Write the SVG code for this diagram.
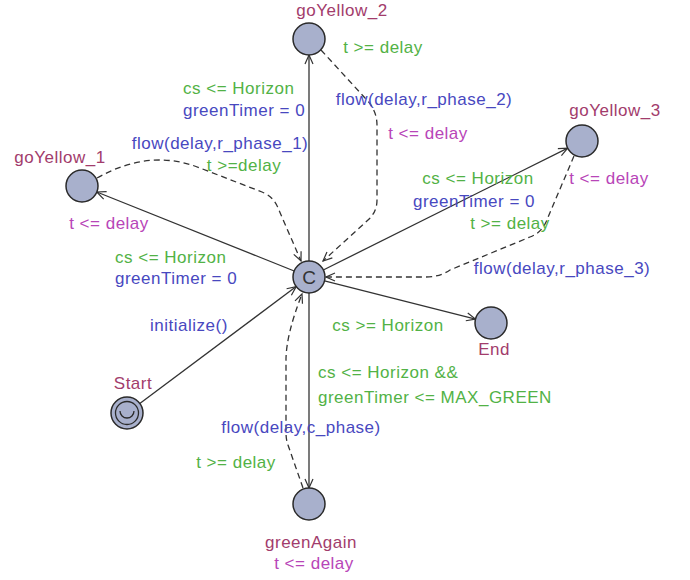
<svg xmlns="http://www.w3.org/2000/svg" width="690" height="580" viewBox="0 0 690 580">
<defs>
<style>
text{font-family:"Liberation Sans",Arial,sans-serif;font-size:17px;letter-spacing:0.5px}
.nm{fill:#a23c6c;text-anchor:middle}
.gd{fill:#52b246}
.as{fill:#4848bf}
.iv{fill:#b845b8}
.m{text-anchor:middle}
.loc{fill:#a8b0cc;stroke:#2a2a2a;stroke-width:1.5}
.e{fill:none;stroke:#333;stroke-width:1.3}
.d{stroke-dasharray:6,4}
</style>
<marker id="arr" viewBox="-10 -5 11 10" refX="0" refY="0" markerWidth="11" markerHeight="10" markerUnits="userSpaceOnUse" orient="auto">
<path d="M-9,-4 L0,0 L-9,4" fill="none" stroke="#333" stroke-width="1.2"/>
</marker>
</defs>
<rect width="690" height="580" fill="#ffffff"/>
<g id="connectors">
<path class="e" d="M309,261 L309,55" marker-end="url(#arr)"/>
<path class="e" d="M294.2,271 L96.8,192" marker-end="url(#arr)"/>
<path class="e" d="M323.3,270 L567.7,148.1" marker-end="url(#arr)"/>
<path class="e" d="M324.5,280.9 L475.5,319.1" marker-end="url(#arr)"/>
<path class="e" d="M309,293 L309,488" marker-end="url(#arr)"/>
<path class="e" d="M139.8,403.4 L296.2,286.6" marker-end="url(#arr)"/>
<path class="e d" d="M321,50 L365,98 Q377,110 377,125 L377,200 Q377,212 368,220 L323,261" marker-end="url(#arr)"/>
<path class="e d" d="M97,178 Q150,148 200,168 L262,192 Q274,197 278,208 L301,261" marker-end="url(#arr)"/>
<path class="e d" d="M574,156 L546,222 Q541,233 530,237 L450,270 Q440,277 425,277 L326,277" marker-end="url(#arr)"/>
<path class="e d" d="M303,488 L288,445 Q286,440 286,432 L286,360 Q286,335 302,294" marker-end="url(#arr)"/>
</g>
<g id="C">
<circle class="loc" cx="309" cy="277" r="16"/>
<text x="309" y="284" class="m" style="fill:#333;font-size:19px;letter-spacing:0">C</text>
</g>
<g id="goYellow_2">
<circle class="loc" cx="309" cy="39" r="16"/>
<text x="342" y="16" class="nm">goYellow_2</text>
</g>
<g id="goYellow_1">
<circle class="loc" cx="82" cy="186" r="16"/>
<text x="60" y="163" class="nm">goYellow_1</text>
</g>
<g id="goYellow_3">
<circle class="loc" cx="582" cy="141" r="16"/>
<text x="615" y="116" class="nm">goYellow_3</text>
</g>
<g id="End">
<circle class="loc" cx="491" cy="323" r="16"/>
<text x="494" y="355" class="nm">End</text>
</g>
<g id="greenAgain">
<circle class="loc" cx="309" cy="504" r="16"/>
<text x="311" y="548" class="nm">greenAgain</text>
</g>
<g id="Start">
<circle class="loc" cx="127" cy="413" r="16"/>
<circle cx="127" cy="413" r="11.5" fill="none" stroke="#2a2a2a" stroke-width="1.3"/>
<path d="M120,411 A7,7 0 0 0 134,411" fill="none" stroke="#2a2a2a" stroke-width="1.3"/>
<text x="133" y="389" class="nm">Start</text>
</g>
<g id="labels">
<text x="383" y="53" class="gd m">t &gt;= delay</text>
<text x="183" y="94" class="gd">cs &lt;= Horizon</text>
<text x="183" y="116" class="as">greenTimer = 0</text>
<text x="424" y="105" class="as m">flow(delay,r_phase_2)</text>
<text x="428" y="139" class="iv m">t &lt;= delay</text>
<text x="220" y="149" class="as m">flow(delay,r_phase_1)</text>
<text x="244" y="171" class="gd m">t &gt;=delay</text>
<text x="609" y="184" class="iv m">t &lt;= delay</text>
<text x="478" y="184" class="gd m">cs &lt;= Horizon</text>
<text x="474" y="207" class="as m">greenTimer = 0</text>
<text x="510" y="229" class="gd m">t &gt;= delay</text>
<text x="109" y="229" class="iv m">t &lt;= delay</text>
<text x="115" y="263" class="gd">cs &lt;= Horizon</text>
<text x="115" y="284" class="as">greenTimer = 0</text>
<text x="562" y="274" class="as m">flow(delay,r_phase_3)</text>
<text x="189" y="331" class="as m">initialize()</text>
<text x="388" y="331" class="gd m">cs &gt;= Horizon</text>
<text x="318" y="378" class="gd">cs &lt;= Horizon &amp;&amp;</text>
<text x="318" y="403" class="gd">greenTimer &lt;= MAX_GREEN</text>
<text x="301" y="433" class="as m">flow(delay,c_phase)</text>
<text x="236" y="468" class="gd m">t &gt;= delay</text>
<text x="314" y="569" class="iv m">t &lt;= delay</text>
</g>
</svg>
